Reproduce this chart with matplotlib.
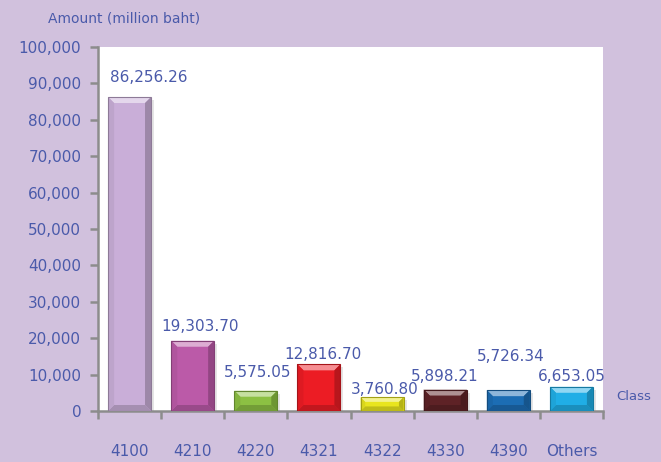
import matplotlib
matplotlib.use("Agg")
import matplotlib.pyplot as plt
from matplotlib.patches import Polygon, Rectangle
import numpy as np
import matplotlib.colors as mcolors

categories = ["4100", "4210", "4220", "4321", "4322", "4330", "4390", "Others"]
values = [86256.26, 19303.70, 5575.05, 12816.70, 3760.80, 5898.21, 5726.34, 6653.05]
value_labels = ["86,256.26", "19,303.70", "5,575.05", "12,816.70", "3,760.80", "5,898.21", "5,726.34", "6,653.05"]
colors = ["#C9AED8", "#BB5AA8", "#8CC043", "#EC1C24", "#E8E51E", "#5E2226", "#1C6DB4", "#20AEE6"]
yticks = [0, 10000, 20000, 30000, 40000, 50000, 60000, 70000, 80000, 90000, 100000]
# label offsets (pixels) relative to bar top-center: style only
label_dx = [19, 7, 2, 4, 3, 0, 2, 0]
label_dy = [20, 14, 18, 10, 8, 13, 34, 10]

BG = "#D1C1DD"
TXT = "#4A5AAA"
AX = "#8C8C8C"

fig = plt.figure(figsize=(6.61, 4.62), dpi=100, facecolor=BG)
ax = fig.add_axes([98/661, 1-411/462, (603-98)/661, (411-47)/462])
ax.set_facecolor("white")

x = np.arange(len(categories))
bars = ax.bar(x, values, width=0.68, color=colors, zorder=3, linewidth=0)
ax.set_xlim(-0.5, len(categories)-0.5)
ax.set_ylim(0, 100000)

fig.canvas.draw()

def shade(c, f):
    r, g, b = mcolors.to_rgb(c)
    if f > 0:
        return (r + (1-r)*f, g + (1-g)*f, b + (1-b)*f)
    return (r*(1+f), g*(1+f), b*(1+f))

for bar, c in zip(bars, colors):
    bb = bar.get_window_extent()
    x0, y0, x1, y1 = bb.x0, bb.y0, bb.x1, bb.y1
    b = min(6, (y1-y0)/3)
    # shadow
    ax.add_patch(Rectangle((x0+3, y0), x1-x0, y1-y0-3, transform=None,
                           facecolor="#000000", alpha=0.10, zorder=2, linewidth=0))
    polys = [
        ([(x0, y1), (x1, y1), (x1-b, y1-b), (x0+b, y1-b)], shade(c, 0.5)),    # top
        ([(x0, y0), (x1, y0), (x1-b, y0+b), (x0+b, y0+b)], shade(c, -0.18)),  # bottom
        ([(x0, y0), (x0, y1), (x0+b, y1-b), (x0+b, y0+b)], shade(c, -0.06)),  # left
        ([(x1, y0), (x1, y1), (x1-b, y1-b), (x1-b, y0+b)], shade(c, -0.22)),  # right
    ]
    for pts, fc in polys:
        ax.add_patch(Polygon(pts, closed=True, transform=None, facecolor=fc,
                             edgecolor="none", zorder=4))
    ax.add_patch(Rectangle((x0, y0), x1-x0, y1-y0, transform=None, facecolor="none",
                           edgecolor=shade(c, -0.3), linewidth=0.8, zorder=5))

for i, (xi, v, lab) in enumerate(zip(x, values, value_labels)):
    ax.annotate(lab, (xi, v), xytext=(label_dx[i], label_dy[i]), textcoords="offset pixels",
                ha="center", va="center", color=TXT, fontsize=11, zorder=6,
                annotation_clip=False)

for s in ["top", "right"]:
    ax.spines[s].set_visible(False)
for s in ["left", "bottom"]:
    ax.spines[s].set_color(AX)
    ax.spines[s].set_linewidth(1.8)

ax.set_yticks(yticks)
ax.set_yticklabels([f"{t:,}" for t in yticks])
ax.tick_params(axis="y", colors=AX, labelcolor=TXT, labelsize=11, length=6, width=1.8, pad=6)

ax.set_xticks(np.arange(len(categories)+1) - 0.5)
ax.set_xticklabels([])
ax.set_xticks(x, minor=True)
ax.set_xticklabels(categories, minor=True)
ax.tick_params(axis="x", which="major", colors=AX, length=6, width=1.8, direction="out")
ax.tick_params(axis="x", which="minor", length=0, labelcolor=TXT, labelsize=11, pad=24)

fig.text(48/661, 1-18/462, "Amount (million baht)", color=TXT, fontsize=10, ha="left", va="center")
fig.text(616/661, 1-397/462, "Class", color=TXT, fontsize=9.5, ha="left", va="center")

fig.savefig("out.png", dpi=100, facecolor=BG)
